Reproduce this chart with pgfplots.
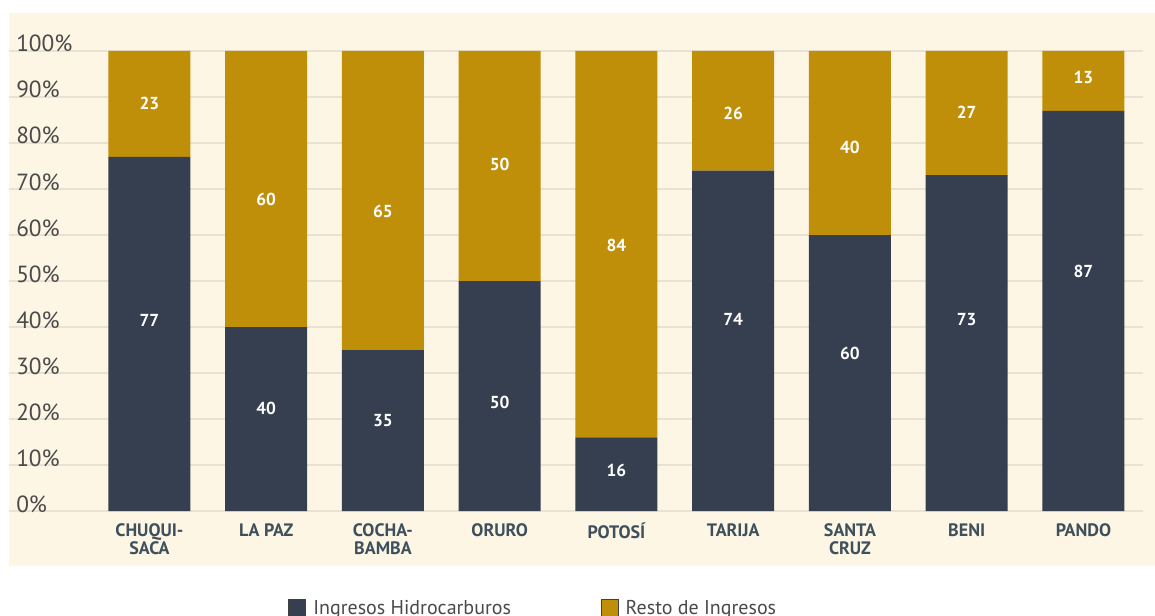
\documentclass[border=0pt]{standalone}
\usepackage{pgfplots}
\pgfplotsset{compat=1.18}
\usepackage{pgfplotstable}
\usepackage{fontspec}
\setmainfont{PT Sans}

\definecolor{cream}{HTML}{FDF6E5}
\definecolor{darkbar}{HTML}{353F4F}
\definecolor{goldbar}{HTML}{C08F0A}
\definecolor{gridc}{HTML}{E9E1D2}
\definecolor{ticktxt}{HTML}{4A4A4A}
\definecolor{cattxt}{HTML}{3E505B}

% px -> pt (1px = 0.75pt)
\def\px{0.75pt}

% shares in percent
\pgfplotstableread{
x hidro resto
0 77 23
1 40 60
2 35 65
3 50 50
4 16 84
5 74 26
6 60 40
7 73 27
8 87 13
}\shares

% where the value labels sit
\pgfplotstableread{
x y lab
0 41.5 77
1 22.4 40
2 19.6 35
3 23.5 50
4 8.9 16
5 41.7 74
6 34.3 60
7 41.7 73
8 52.0 87
0 88.5 23
1 67.8 60
2 65.2 65
3 75.4 50
4 57.8 84
5 86.5 26
6 79.0 40
7 86.7 27
8 94.3 13
}\labels

\begin{document}
\begin{tikzpicture}
\useasboundingbox (0,0) rectangle (1155*\px,615*\px);
\fill[white] (0,0) rectangle (1155*\px,615*\px);
\fill[cream] (9*\px,49*\px) rectangle (1155*\px,602*\px);

\pgfplotsset{
  base/.style={
    scale only axis,
    width=1134*\px, height=460*\px,
    at={(9*\px,104*\px)}, anchor=south west,
    xmin=-1.203, xmax=8.51,
    ymin=0, ymax=100,
    axis line style={draw=none},
    major tick length=0pt,
    clip=false,
  }
}

\begin{axis}[
  base,
  ybar stacked,
  bar width=82*\px,
  xtick=data,
  xticklabels={{CHUQUI-\\SACA},{LA PAZ},{COCHA-\\BAMBA},ORURO,POTOSÍ,TARIJA,{SANTA\\CRUZ},BENI,PANDO},
  xticklabel style={align=center, inner sep=0pt, yshift=-12*\px, text=cattxt,
    font=\bfseries\fontsize{13.5}{13.8}\selectfont},
  ytick={0,10,...,100},
  yticklabel={\pgfmathprintnumber{\tick}\%},
  yticklabel style={anchor=base west, inner sep=0pt, xshift=7*\px, yshift=-1*\px,
    text=ticktxt, font=\fontsize{17.5}{17.5}\selectfont},
  /pgf/number format/assume math mode=true,
  ymajorgrids,
  grid style={gridc, line width=1.2*\px},
  legend style={draw=none, fill=none, inner sep=0pt,
    at={(0.2460,-0.2110)}, anchor=west,
    legend columns=2,
    font=\fontsize{15}{15}\selectfont, text=ticktxt,
    /tikz/every even column/.append style={column sep=87*\px}},
  legend cell align=left,
  legend image code/.code={\draw[#1, draw=black!75, line width=0.6pt]
    (0pt,-6.4pt) rectangle (12.75pt,6.35pt); \path (16.5pt,0pt);},
]
\addplot[fill=darkbar, draw=none] table[x=x, y=hidro] {\shares};
\addplot[fill=goldbar, draw=none] table[x=x, y=resto] {\shares};
\legend{Ingresos Hidrocarburos, Resto de Ingresos}
\end{axis}

\begin{axis}[
  base,
  hide axis,
]
\addplot[only marks, mark=none,
  nodes near coords, point meta=explicit symbolic,
  nodes near coords style={anchor=center, text=white,
    font=\bfseries\fontsize{13}{13}\selectfont},
] table[x=x, y=y, meta=lab] {\labels};
\end{axis}
\end{tikzpicture}
\end{document}
